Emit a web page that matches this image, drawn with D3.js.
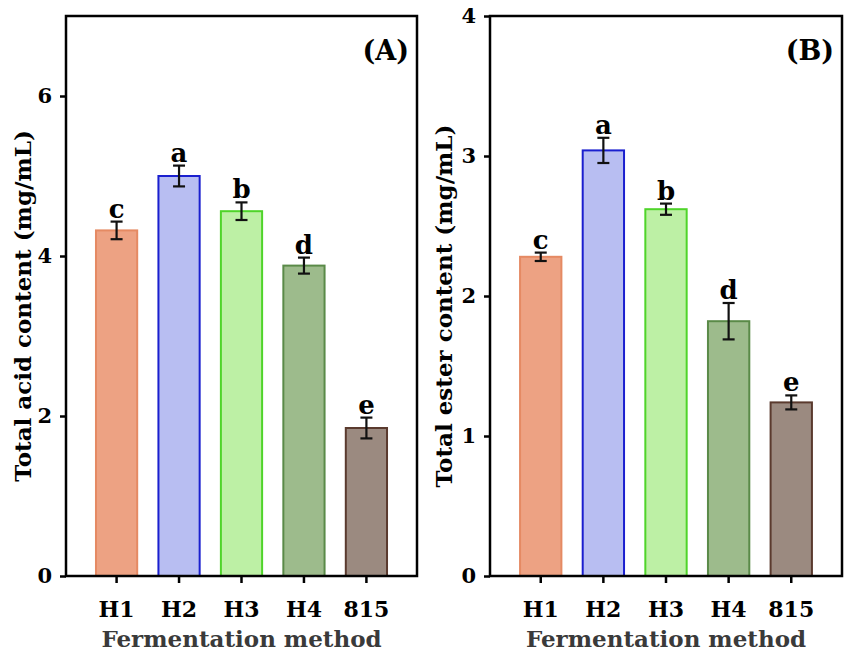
<!DOCTYPE html>
<html>
<head>
<meta charset="utf-8">
<script src="https://cdn.jsdelivr.net/npm/d3@7"></script>
<style>
  body { margin: 0; background: #fff; }
  svg text { font-family: "DejaVu Serif", serif; font-weight: bold; }
</style>
</head>
<body>
<svg id="chart" width="851" height="659"></svg>
<script>
// Categories and values
const methods = ['H1', 'H2', 'H3', 'H4', '815'];
const acidValues = [4.32, 5.0, 4.56, 3.88, 1.85];
const acidErrors = [0.11, 0.13, 0.11, 0.10, 0.13];
const esterValues = [2.28, 3.04, 2.62, 1.82, 1.24];
const esterErrors = [0.03, 0.09, 0.04, 0.13, 0.05];
const letters = ['c', 'a', 'b', 'd', 'e'];
const acidTicks = [0, 2, 4, 6];
const esterTicks = [0, 1, 2, 3, 4];

const fills = ['#eda283', '#b8bef2', '#bdf0a5', '#9dbb8c', '#9b8a80'];
const strokes = ['#e58a63', '#1a1fcf', '#4fd42a', '#5a8a48', '#5a3a2e'];

const svg = d3.select('#chart');

function drawPanel(opts) {
  const left = opts.left, right = opts.right, top = 16, bottom = 576;
  const g = svg.append('g');

  const x = d3.scaleBand()
    .domain(methods)
    .range([left, right])
    .paddingInner(0.34)
    .paddingOuter(0.48);

  const y = d3.scaleLinear()
    .domain([0, opts.ymax])
    .range([bottom, top]);

  // bars
  g.selectAll('rect.bar')
    .data(opts.values)
    .enter().append('rect')
      .attr('class', 'bar')
      .attr('x', (d, i) => x(methods[i]))
      .attr('width', x.bandwidth())
      .attr('y', d => y(d))
      .attr('height', d => bottom - y(d))
      .style('fill', (d, i) => fills[i])
      .style('stroke', (d, i) => strokes[i])
      .style('stroke-width', 2);

  // error bars
  const cx = i => x(methods[i]) + x.bandwidth() / 2;
  const eb = g.selectAll('g.err')
    .data(opts.values)
    .enter().append('g').attr('class', 'err')
      .style('stroke', '#111').style('stroke-width', 2.2);
  eb.append('line')
    .attr('x1', (d, i) => cx(i)).attr('x2', (d, i) => cx(i))
    .attr('y1', (d, i) => y(d - opts.errors[i]))
    .attr('y2', (d, i) => y(d + opts.errors[i]));
  eb.append('line')
    .attr('x1', (d, i) => cx(i) - 6).attr('x2', (d, i) => cx(i) + 6)
    .attr('y1', (d, i) => y(d + opts.errors[i]))
    .attr('y2', (d, i) => y(d + opts.errors[i]));
  eb.append('line')
    .attr('x1', (d, i) => cx(i) - 6).attr('x2', (d, i) => cx(i) + 6)
    .attr('y1', (d, i) => y(d - opts.errors[i]))
    .attr('y2', (d, i) => y(d - opts.errors[i]));

  // significance letters
  g.selectAll('text.sig')
    .data(opts.values)
    .enter().append('text')
      .attr('class', 'sig')
      .attr('x', (d, i) => cx(i))
      .attr('y', (d, i) => y(d + opts.errors[i]) - 4)
      .attr('text-anchor', 'middle')
      .style('font-size', '26px')
      .style('fill', '#000')
      .text((d, i) => letters[i]);

  // axes
  const yAxis = g.append('g')
    .attr('transform', 'translate(' + left + ',0)')
    .call(d3.axisLeft(y).tickValues(opts.ticks).tickSize(6).tickPadding(8).tickFormat(d3.format('d')));
  yAxis.selectAll('text').style('font-size', '21px').style('fill', '#000');

  const xAxis = g.append('g')
    .attr('transform', 'translate(0,' + bottom + ')')
    .call(d3.axisBottom(x).tickSize(7).tickPadding(18));
  xAxis.selectAll('text').style('font-size', '22px').style('fill', '#000');

  [yAxis, xAxis].forEach(a => {
    a.select('.domain').remove();
    a.selectAll('line').style('stroke', '#000').style('stroke-width', 2.5);
  });

  // frame
  g.append('rect')
    .attr('x', left).attr('y', top)
    .attr('width', right - left).attr('height', bottom - top)
    .style('fill', 'none').style('stroke', '#000').style('stroke-width', 2.5);

  // titles
  g.append('text')
    .attr('transform', 'translate(' + opts.ylabelX + ',' + ((top + bottom) / 2 + 10) + ')rotate(-90)')
    .attr('text-anchor', 'middle')
    .style('font-size', '23px')
    .style('fill', '#000')
    .text(opts.ylabel);

  g.append('text')
    .attr('x', (left + right) / 2)
    .attr('y', 647)
    .attr('text-anchor', 'middle')
    .style('font-size', '23px')
    .style('fill', '#3a3a3a')
    .text('Fermentation method');

  g.append('text')
    .attr('x', right - 8)
    .attr('y', 60)
    .attr('text-anchor', 'end')
    .style('font-size', '27px')
    .style('fill', '#000')
    .text(opts.panel);
}

drawPanel({
  left: 66, right: 417, ymax: 7,
  values: acidValues, errors: acidErrors, ticks: acidTicks,
  ylabel: 'Total acid content (mg/mL)', ylabelX: 31, panel: '(A)'
});

drawPanel({
  left: 490, right: 842, ymax: 4,
  values: esterValues, errors: esterErrors, ticks: esterTicks,
  ylabel: 'Total ester content (mg/mL)', ylabelX: 452, panel: '(B)'
});
</script>
</body>
</html>
